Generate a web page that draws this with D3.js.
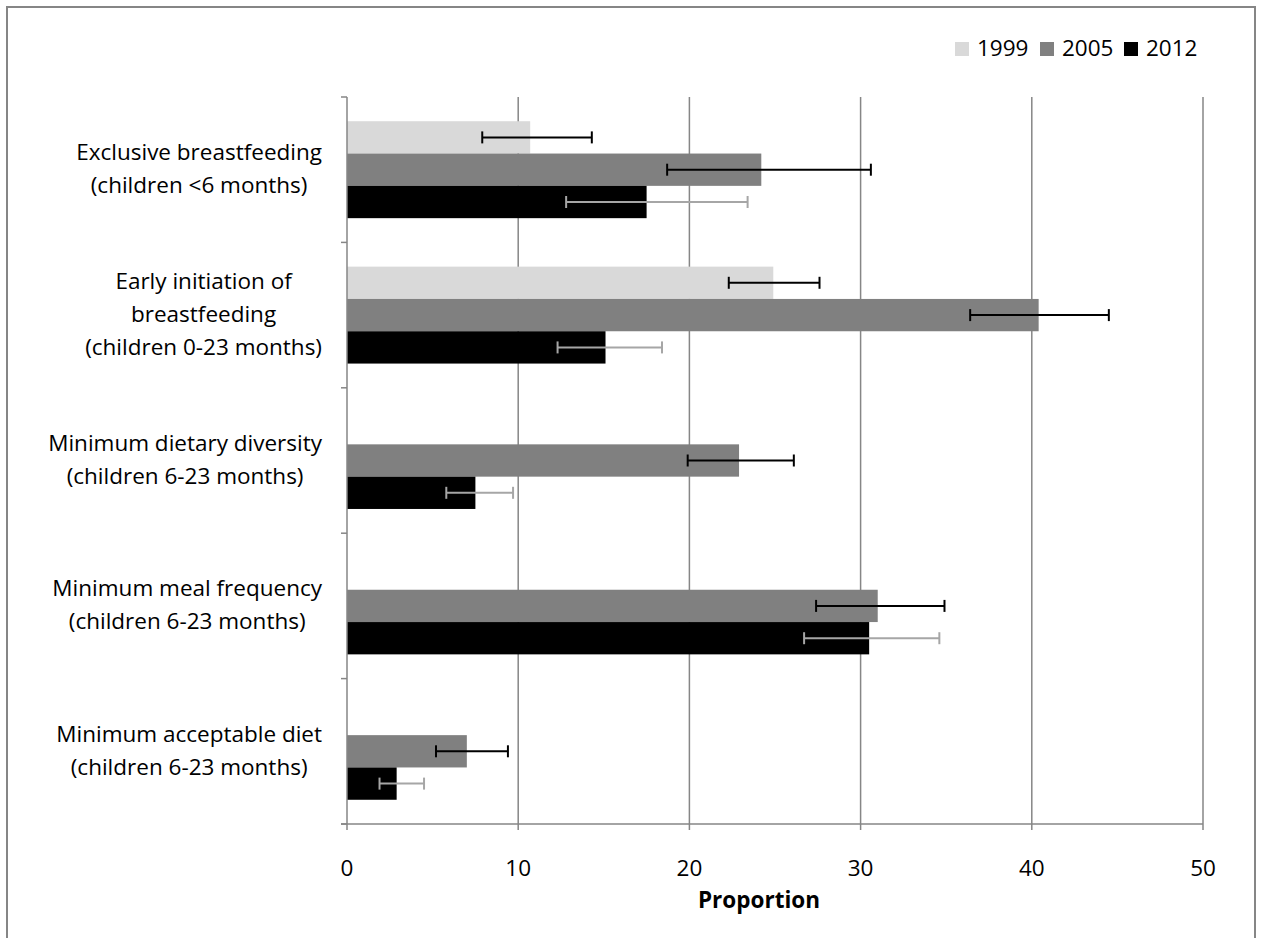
<!DOCTYPE html>
<html><head><meta charset="utf-8">
<script src="https://cdn.jsdelivr.net/npm/d3@7"></script>
<style>html,body{margin:0;padding:0;background:#fff;}svg{display:block;}</style>
</head><body>
<script>
const categories = [
  ["Exclusive breastfeeding","(children <6 months)"],
  ["Early initiation of","breastfeeding","(children 0-23 months)"],
  ["Minimum dietary diversity","(children 6-23 months)"],
  ["Minimum meal frequency","(children 6-23 months)"],
  ["Minimum acceptable diet","(children 6-23 months)"]
];
const years = ["1999","2005","2012"];
const values1999 = [10.7, 24.9, null, null, null];
const values2005 = [24.2, 40.4, 22.9, 31.0, 7.0];
const values2012 = [17.5, 15.1, 7.5, 30.5, 2.9];
const low1999 = [7.9, 22.3, null, null, null];
const high1999 = [14.3, 27.6, null, null, null];
const low2005 = [18.7, 36.4, 19.9, 27.4, 5.2];
const high2005 = [30.6, 44.5, 26.1, 34.9, 9.4];
const low2012 = [12.8, 12.3, 5.8, 26.7, 1.9];
const high2012 = [23.4, 18.4, 9.7, 34.6, 4.5];
const xTicks = [0, 10, 20, 30, 40, 50];
const barColors = ["#d9d9d9", "#808080", "#000000"];
const errColors = ["#000000", "#000000", "#a6a6a6"];

const series = [
  {year: years[0], v: values1999, lo: low1999, hi: high1999},
  {year: years[1], v: values2005, lo: low2005, hi: high2005},
  {year: years[2], v: values2012, lo: low2012, hi: high2012}
];

(function(){
const W = 1261, H = 938;
const svg = d3.select("body").append("svg").attr("width", W).attr("height", H);
const font = "'Open Sans', sans-serif";
const fs = 22.5;
const axisColor = "#868686";

svg.append("rect").attr("x", 7).attr("y", 7).attr("width", 1248).attr("height", 940)
  .attr("fill", "none").attr("stroke", axisColor).attr("stroke-width", 2);

const pLeft = 347, pRight = 1203, pTop = 97, pBottom = 824;
const x = d3.scaleLinear().domain([0, 50]).range([pLeft, pRight]);
const catIdx = categories.map((d, i) => i);
const y0 = d3.scaleBand().domain(catIdx).range([pTop, pBottom]).paddingInner(0);
const y1 = d3.scaleBand().domain(years).range([0, y0.bandwidth()]).paddingInner(0).paddingOuter(0.75);

// gridlines
svg.append("g").selectAll("line").data(xTicks.slice(1)).join("line")
  .attr("x1", d => x(d)).attr("x2", d => x(d)).attr("y1", pTop).attr("y2", pBottom)
  .attr("stroke", axisColor).attr("stroke-width", 1.5);

// bars
const groups = svg.append("g").selectAll("g").data(series).join("g");
groups.each(function(s, si) {
  const g = d3.select(this);
  catIdx.forEach(ci => {
    const v = s.v[ci];
    if (v == null) return;
    g.append("rect")
      .attr("x", x(0)).attr("y", y0(ci) + y1(s.year))
      .attr("width", x(v) - x(0)).attr("height", y1.bandwidth())
      .attr("fill", barColors[si]);
  });
});

// error bars
groups.each(function(s, si) {
  const g = d3.select(this).append("g").attr("stroke", errColors[si]).attr("stroke-width", 2);
  catIdx.forEach(ci => {
    if (s.v[ci] == null) return;
    const cy = y0(ci) + y1(s.year) + y1.bandwidth() / 2;
    g.append("line").attr("x1", x(s.lo[ci])).attr("x2", x(s.hi[ci])).attr("y1", cy).attr("y2", cy);
    [s.lo[ci], s.hi[ci]].forEach(e => {
      g.append("line").attr("x1", x(e)).attr("x2", x(e)).attr("y1", cy - 6).attr("y2", cy + 6);
    });
  });
});

// y axis
const yAxisG = svg.append("g").attr("stroke", axisColor).attr("stroke-width", 1.5);
yAxisG.append("line").attr("x1", pLeft).attr("x2", pLeft).attr("y1", pTop).attr("y2", pBottom);
const yBounds = catIdx.map(ci => y0(ci)).concat([pBottom]);
yAxisG.selectAll("line.t").data(yBounds).join("line").attr("class", "t")
  .attr("x1", pLeft - 6).attr("x2", pLeft).attr("y1", d => d).attr("y2", d => d);

// x axis
const xAxisG = svg.append("g").attr("stroke", axisColor).attr("stroke-width", 1.5);
xAxisG.append("line").attr("x1", pLeft - 6).attr("x2", pRight).attr("y1", pBottom).attr("y2", pBottom);
xAxisG.selectAll("line.t").data(xTicks).join("line").attr("class", "t")
  .attr("x1", d => x(d)).attr("x2", d => x(d)).attr("y1", pBottom).attr("y2", pBottom + 6);

svg.append("g").selectAll("text").data(xTicks).join("text")
  .attr("x", d => x(d)).attr("y", 876).attr("text-anchor", "middle")
  .attr("font-family", font).attr("font-size", fs).attr("fill", "#000")
  .text(d => d);

svg.append("text").attr("x", 759).attr("y", 908).attr("text-anchor", "middle")
  .attr("font-family", font).attr("font-size", fs).attr("font-weight", "bold").attr("fill", "#000")
  .text("Proportion");

// category labels: block right edge near axis, lines centered within block
const lab = svg.append("g");
const labelRight = 322;
categories.forEach((lines, ci) => {
  const cy = y0(ci) + y0.bandwidth() / 2;
  const n = lines.length;
  const t = lab.append("text").attr("text-anchor", "middle")
    .attr("font-family", font).attr("font-size", fs).attr("fill", "#000");
  const spans = lines.map((ln, li) =>
    t.append("tspan").attr("y", cy + 7 + (li - (n - 1) / 2) * 33).text(ln));
  const maxW = d3.max(spans, s => s.node().getComputedTextLength());
  spans.forEach(s => s.attr("x", labelRight - maxW / 2));
});

// legend
const legX = [955, 1040, 1124];
const leg = svg.append("g");
years.forEach((yr, i) => {
  leg.append("rect").attr("x", legX[i]).attr("y", 42).attr("width", 14).attr("height", 14).attr("fill", barColors[i]);
  leg.append("text").attr("x", legX[i] + 22).attr("y", 56).attr("font-family", font)
    .attr("font-size", fs).attr("fill", "#000").text(yr);
});
})();
</script>
</body></html>
